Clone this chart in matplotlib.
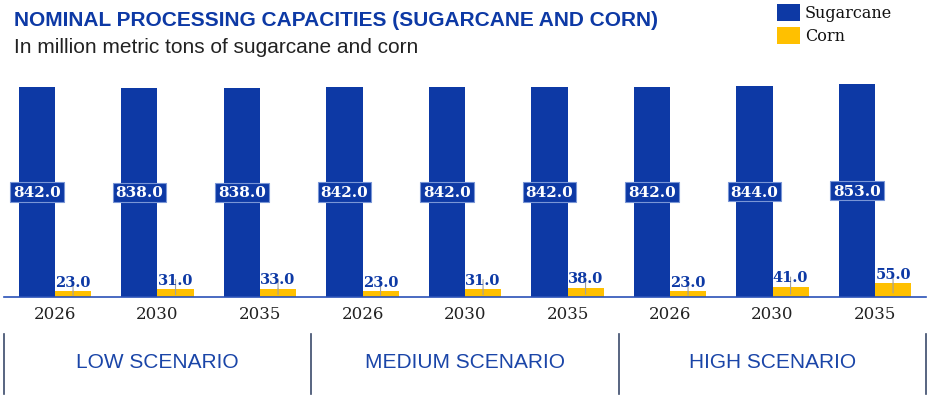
import numpy as np
import matplotlib
matplotlib.use("Agg")
import matplotlib.pyplot as plt
import matplotlib.transforms as mtransforms
from matplotlib.patches import Rectangle

# data
years = ["2026", "2030", "2035", "2026", "2030", "2035", "2026", "2030", "2035"]
scenarios = ["LOW SCENARIO", "MEDIUM SCENARIO", "HIGH SCENARIO"]
sugarcane = [842.0, 838.0, 838.0, 842.0, 842.0, 842.0, 842.0, 844.0, 853.0]
corn = [23.0, 31.0, 33.0, 23.0, 31.0, 38.0, 23.0, 41.0, 55.0]

blue = "#0D39A5"
yellow = "#FFC000"
num_font = "DejaVu Serif"

fig = plt.figure(figsize=(9.36, 4.02), dpi=100)
ax = fig.add_axes([0.004, 0.2587, 0.9856, 0.5336])

x = np.arange(len(years))
w = 0.352
ax.bar(x - w / 2, sugarcane, w, color=blue)
ax.bar(x + w / 2, corn, w, color=yellow)

# labels inside the sugarcane bars
for xi, v in zip(x - w / 2, sugarcane):
    ax.text(xi, v / 2, f"{v:.1f}", ha="center", va="center", color="white",
            fontsize=11, fontweight="bold", family=num_font,
            bbox=dict(boxstyle="square,pad=0.18", facecolor=blue,
                      edgecolor="#7A96D6", linewidth=0.8))

# labels above the corn bars, with a small leader line into the bar
for xi, v in zip(x + w / 2, corn):
    ax.annotate(f"{v:.1f}", xy=(xi, v), xytext=(0, 7),
                textcoords="offset points", ha="center", va="center",
                color=blue, fontsize=10.5, fontweight="bold", family=num_font,
                arrowprops=dict(arrowstyle="-", color="#A0A0A0", lw=0.8,
                                shrinkA=0, shrinkB=0))
    ax.annotate("", xy=(xi, v * 0.3), xytext=(xi, v),
                arrowprops=dict(arrowstyle="-", color="#A0A0A0", lw=0.8,
                                shrinkA=0, shrinkB=0))

ax.set_xlim(-0.5, len(years) - 0.5)
ax.set_ylim(0, 860)
ax.set_xticks(x)
ax.set_xticklabels(years, family=num_font, fontsize=12, color="#222222")
ax.tick_params(axis="x", length=0, pad=6)
ax.set_yticks([])
for s in ["top", "right", "left"]:
    ax.spines[s].set_visible(False)
ax.spines["bottom"].set_color("#2A52B8")
ax.spines["bottom"].set_linewidth(1.2)

# scenario separators and names
trans = mtransforms.blended_transform_factory(ax.transData, fig.transFigure)
for sx in [-0.5, 2.5, 5.5, 8.5]:
    ax.plot([sx, sx], [0.0174, 0.1667], transform=trans, color="#3B4A6B",
            lw=1.2, clip_on=False)
for i, name in enumerate(scenarios):
    ax.text(3 * i + 1, 0.0995, name, transform=trans, ha="center", va="center",
            color="#1A45A8", fontsize=15, family="Liberation Sans")

# titles
fig.text(0.015, 0.948, "NOMINAL PROCESSING CAPACITIES (SUGARCANE AND CORN)",
         ha="left", va="center", color=blue, fontsize=15, fontweight="bold",
         family="Liberation Sans")
fig.text(0.015, 0.881, "In million metric tons of sugarcane and corn",
         ha="left", va="center", color="#222222", fontsize=15,
         family="Liberation Sans")

# legend drawn by hand at the top right
for j, (lab, col) in enumerate([("Sugarcane", blue), ("Corn", yellow)]):
    y0 = 1 - (22 + j * 23) / 402
    fig.patches.append(Rectangle((777 / 936, y0), 23 / 936, 17 / 402,
                                 transform=fig.transFigure, facecolor=col,
                                 edgecolor="none"))
    fig.text(805 / 936, y0 + 8.5 / 402, lab, ha="left", va="center",
             fontsize=11.5, family=num_font, color="#111111")

fig.savefig("out.png", dpi=100)
